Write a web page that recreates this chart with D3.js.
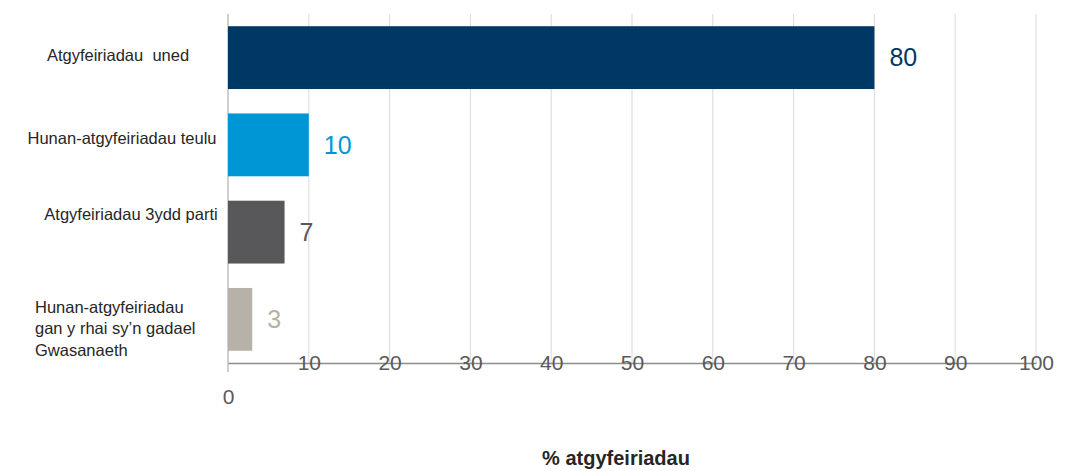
<!DOCTYPE html>
<html>
<head>
<meta charset="utf-8">
<script src="https://cdn.jsdelivr.net/npm/d3@7"></script>
<style>
  body { margin: 0; background: #fff; }
  svg { display: block; font-family: "Liberation Sans", Arial, sans-serif; }
</style>
</head>
<body>
<div id="chart"></div>
<script>
const categories = [
  'Atgyfeiriadau  uned',
  'Hunan-atgyfeiriadau teulu',
  'Atgyfeiriadau 3ydd parti',
  'Hunan-atgyfeiriadau\ngan y rhai sy\u2019n gadael\nGwasanaeth'
];
const values = [80, 10, 7, 3];
const barColours = ['#003865', '#0096d6', '#58585a', '#b6b1a9'];
const tickValues = [0, 10, 20, 30, 40, 50, 60, 70, 80, 90, 100];
const axisTitle = '% atgyfeiriadau';

const width = 1071, height = 471;
const margin = { left: 228, right: 35, top: 14, bottom: 108 };

const svg = d3.select('#chart').append('svg')
  .attr('width', width)
  .attr('height', height);

const x = d3.scaleLinear().domain([0, 100]).range([margin.left, width - margin.right]);
const y = d3.scaleBand().domain(categories)
  .range([margin.top, height - margin.bottom])
  .paddingInner(0.28).paddingOuter(0.14);

// gridlines
svg.append('g')
  .selectAll('line')
  .data(tickValues.slice(1))
  .enter().append('line')
  .attr('x1', d => x(d)).attr('x2', d => x(d))
  .attr('y1', margin.top).attr('y2', height - margin.bottom)
  .attr('stroke', '#d9d9d9').attr('stroke-width', 1);

// value axis left edge
svg.append('line')
  .attr('x1', x(0)).attr('x2', x(0))
  .attr('y1', margin.top).attr('y2', height - margin.bottom + 9)
  .attr('stroke', '#bfbfbf').attr('stroke-width', 1.5);

// bars
svg.append('g')
  .selectAll('rect')
  .data(values)
  .enter().append('rect')
  .attr('x', x(0))
  .attr('y', (d, i) => y(categories[i]))
  .attr('width', d => x(d) - x(0))
  .attr('height', y.bandwidth())
  .attr('fill', (d, i) => barColours[i]);

// value labels
svg.append('g')
  .selectAll('text')
  .data(values)
  .enter().append('text')
  .attr('x', d => x(d) + 15)
  .attr('y', (d, i) => y(categories[i]) + y.bandwidth() / 2)
  .attr('dy', '0.35em')
  .attr('font-size', 25)
  .attr('fill', (d, i) => barColours[i])
  .text(d => d);

// horizontal axis
const xAxis = d3.axisBottom(x).tickValues(tickValues).tickSize(0).tickFormat(d3.format('d'));
svg.append('g')
  .attr('transform', 'translate(0,' + (height - margin.bottom) + ')')
  .call(xAxis)
  .call(g => g.select('.domain').attr('stroke', '#8c8c8c').attr('stroke-width', 1.3))
  .call(g => g.selectAll('.tick text')
    .attr('font-size', 21)
    .attr('font-family', '"Liberation Sans", Arial, sans-serif')
    .attr('fill', '#595959')
    .attr('y', 0)
    .attr('dy', d => d === 0 ? '1.95em' : '0.35em'));

// category labels
const labelOffsets = [-110, -106, -97, -193];
const labelAnchors = ['middle', 'middle', 'middle', 'start'];
const lineShift = [-2, -7, -18, 9];
categories.forEach((c, i) => {
  const lines = c.split('\n');
  const cy = y(c) + y.bandwidth() / 2 + lineShift[i];
  const t = svg.append('text')
    .attr('x', x(0) + labelOffsets[i])
    .attr('y', cy - (lines.length - 1) * 21.5 / 2)
    .attr('font-size', 16.5)
    .attr('fill', '#262626')
    .attr('text-anchor', labelAnchors[i])
    .style('white-space', 'pre');
  lines.forEach((l, j) => {
    t.append('tspan')
      .attr('x', x(0) + labelOffsets[i])
      .attr('dy', j === 0 ? '0.35em' : 21.5)
      .text(l);
  });
});

// axis title
svg.append('text')
  .attr('x', 616)
  .attr('y', 465)
  .attr('text-anchor', 'middle')
  .attr('font-size', 20)
  .attr('font-weight', 'bold')
  .attr('fill', '#262626')
  .text(axisTitle);
</script>
</body>
</html>
